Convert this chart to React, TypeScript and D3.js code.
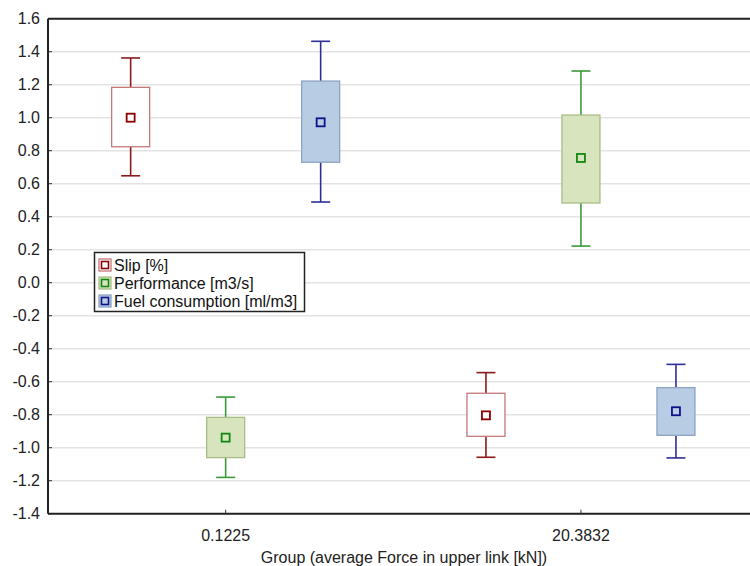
import React from "react";
import * as d3 from "d3";

const groups = ["0.1225", "20.3832"];
const seriesNames = ["Slip [%]", "Performance [m3/s]", "Fuel consumption [ml/m3]"];
// per series, per group: [whiskerLow, boxLow, mean, boxHigh, whiskerHigh]
const slip = [
  [0.648, 0.824, 1.0, 1.184, 1.362],
  [-1.058, -0.931, -0.804, -0.67, -0.545],
];
const performance = [
  [-1.18, -1.06, -0.939, -0.816, -0.693],
  [0.222, 0.483, 0.756, 1.016, 1.283],
];
const fuel = [
  [0.489, 0.73, 0.972, 1.222, 1.463],
  [-1.062, -0.925, -0.779, -0.636, -0.495],
];
const yTicks = d3.range(-1.4, 1.61, 0.2);

const styles = [
  { whisker: "#8b1a1a", boxStroke: "#c47878", fill: "#ffffff", mean: "#8b0000" },
  { whisker: "#3a9a3a", boxStroke: "#a9bd86", fill: "#d7e4bd", mean: "#118811" },
  { whisker: "#2e2e96", boxStroke: "#8ea3c2", fill: "#b8cce4", mean: "#10108a" },
];

const W = 750;
const H = 566;
const left = 48;
const top = 18.7;
const bottom = 513.7;
const right = 758.6;
const font = "'Liberation Sans', Arial, sans-serif";

export default function App() {
  const y = d3.scaleLinear().domain([-1.4, 1.6]).range([bottom, top]);
  const x = d3.scaleBand().domain(groups).range([left, right]);
  const offset = d3.scalePoint().domain(seriesNames).range([-95, 95]);
  const all = [slip, performance, fuel];
  const boxW = 38;
  const capW = 19;
  const meanS = 8;

  return (
    <svg width={W} height={H} style={{ position: "absolute", left: 0, top: 0, background: "#fff" }} fontFamily={font}>
      {yTicks.map((t) => (
        <g key={t.toFixed(1)}>
          <line x1={left} x2={W} y1={y(t)} y2={y(t)} stroke="#e3e3e3" strokeWidth={1.5} />
          <line x1={left} x2={left + 4} y1={y(t)} y2={y(t)} stroke="#333" strokeWidth={1} />
          <text x={40} y={y(t)} dy="0.35em" textAnchor="end" fontSize={16} fill="#222">
            {Math.abs(t) < 1e-9 ? "0.0" : t.toFixed(1)}
          </text>
        </g>
      ))}
      {all.map((ser, si) =>
        ser.map((v, gi) => {
          const cx = (x(groups[gi]) as number) + x.bandwidth() / 2 + (offset(seriesNames[si]) as number);
          const st = styles[si];
          const [wl, bl, m, bh, wh] = v;
          return (
            <g key={`${si}-${gi}`}>
              <line x1={cx} x2={cx} y1={y(wh)} y2={y(bh)} stroke={st.whisker} strokeWidth={1.6} />
              <line x1={cx} x2={cx} y1={y(bl)} y2={y(wl)} stroke={st.whisker} strokeWidth={1.6} />
              <line x1={cx - capW / 2} x2={cx + capW / 2} y1={y(wh)} y2={y(wh)} stroke={st.whisker} strokeWidth={1.6} />
              <line x1={cx - capW / 2} x2={cx + capW / 2} y1={y(wl)} y2={y(wl)} stroke={st.whisker} strokeWidth={1.6} />
              <rect x={cx - boxW / 2} y={y(bh)} width={boxW} height={y(bl) - y(bh)} fill={st.fill} stroke={st.boxStroke} strokeWidth={1.3} />
              <rect x={cx - meanS / 2} y={y(m) - meanS / 2} width={meanS} height={meanS} fill={st.fill} stroke={st.mean} strokeWidth={1.8} />
            </g>
          );
        })
      )}
      {/* frame */}
      <line x1={left} x2={W} y1={top} y2={top} stroke="#222" strokeWidth={2} />
      <line x1={left} x2={W} y1={bottom} y2={bottom} stroke="#222" strokeWidth={2} />
      <line x1={left} x2={left} y1={top} y2={bottom} stroke="#222" strokeWidth={2} />
      {groups.map((g) => {
        const cx = (x(g) as number) + x.bandwidth() / 2;
        return (
          <g key={g}>
            <line x1={cx} x2={cx} y1={bottom} y2={bottom - 4} stroke="#333" strokeWidth={1} />
            <text x={cx} y={535} dy="0.35em" textAnchor="middle" fontSize={16} fill="#222">{g}</text>
          </g>
        );
      })}
      <text x={404} y={557} dy="0.35em" textAnchor="middle" fontSize={16} fill="#222">
        Group (average Force in upper link [kN])
      </text>
      {/* legend */}
      <g>
        <rect x={94.5} y={252.5} width={210} height={59} fill="#fff" stroke="#222" strokeWidth={1.5} />
        {seriesNames.map((n, i) => {
          const st = styles[i];
          const ly = 265 + i * 18;
          return (
            <g key={n}>
              <rect x={99} y={ly - 6} width={12} height={12} fill={st.fill} stroke={st.boxStroke} strokeWidth={1.3} />
              <rect x={101.5} y={ly - 3.5} width={7} height={7} fill={st.fill} stroke={st.mean} strokeWidth={1.6} />
              <text x={114} y={ly} dy="0.35em" fontSize={16} fill="#111">{n}</text>
            </g>
          );
        })}
      </g>
    </svg>
  );
}
